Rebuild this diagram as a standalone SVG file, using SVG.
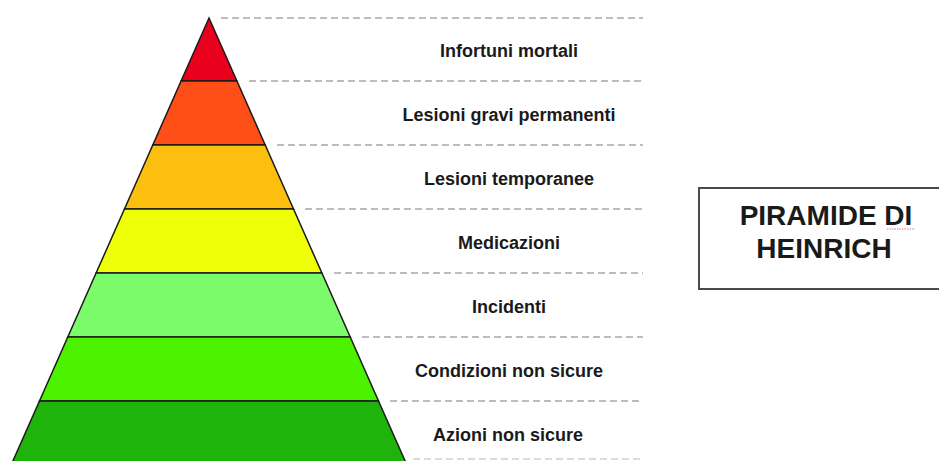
<svg xmlns="http://www.w3.org/2000/svg" width="939" height="461" viewBox="0 0 939 461">
<style>
.band{stroke:#1a1a1a;stroke-width:1.5;stroke-linejoin:miter}
.dash{stroke:#a8a8a8;stroke-width:1.5;stroke-dasharray:7 4;fill:none}
.lbl{font-family:"Liberation Sans",Arial,sans-serif;font-weight:bold;font-size:18px;fill:#1a1a1a;text-anchor:middle}
.ttl{font-family:"Liberation Sans",Arial,sans-serif;font-weight:bold;font-size:28px;fill:#1a1a1a;text-anchor:middle}
</style>
<rect width="939" height="461" fill="#ffffff"/>
<g id="connectors">
<line class="dash" x1="221" y1="18" x2="643" y2="18"/>
<line class="dash" x1="249" y1="81" x2="643" y2="81"/>
<line class="dash" x1="277" y1="145" x2="643" y2="145"/>
<line class="dash" x1="305" y1="209" x2="643" y2="209"/>
<line class="dash" x1="334" y1="273" x2="643" y2="273"/>
<line class="dash" x1="362" y1="337" x2="643" y2="337"/>
<line class="dash" x1="390" y1="401" x2="643" y2="401"/>
<line class="dash" x1="413" y1="459" x2="643" y2="459" style="stroke:#d0d0d0"/>
</g>
<g id="band-infortuni">
<polygon class="band" fill="#e8001c" points="209,18 236.9,81 181.1,81"/>
<text class="lbl" x="509" y="57">Infortuni mortali</text>
</g>
<g id="band-lesioni-gravi">
<polygon class="band" fill="#ff4f18" points="181.1,81 236.9,81 265.2,145 152.8,145"/>
<text class="lbl" x="509" y="121">Lesioni gravi permanenti</text>
</g>
<g id="band-lesioni-temp">
<polygon class="band" fill="#fcbf10" points="152.8,145 265.2,145 293.5,209 124.5,209"/>
<text class="lbl" x="509" y="185">Lesioni temporanee</text>
</g>
<g id="band-medicazioni">
<polygon class="band" fill="#eeff08" points="124.5,209 293.5,209 321.9,273 96.1,273"/>
<text class="lbl" x="509" y="249">Medicazioni</text>
</g>
<g id="band-incidenti">
<polygon class="band" fill="#7cfc6a" points="96.1,273 321.9,273 350.2,337 67.8,337"/>
<text class="lbl" x="509" y="313">Incidenti</text>
</g>
<g id="band-condizioni">
<polygon class="band" fill="#4cf200" points="67.8,337 350.2,337 378.5,401 39.5,401"/>
<text class="lbl" x="509" y="377">Condizioni non sicure</text>
</g>
<g id="band-azioni">
<polygon class="band" fill="#1fb40c" points="39.5,401 378.5,401 409.1,470 8.9,470"/>
<text class="lbl" x="508" y="441">Azioni non sicure</text>
</g>
<g id="title-box">
<rect x="699" y="188" width="260" height="101" fill="#ffffff" stroke="#4a4a4a" stroke-width="2"/>
<text class="ttl" x="826" y="225">PIRAMIDE DI</text>
<text class="ttl" x="824" y="258">HEINRICH</text>
<line x1="887" y1="229" x2="915" y2="229" stroke="#d88080" stroke-width="1" stroke-dasharray="1.5 1"/>
</g>
</svg>
